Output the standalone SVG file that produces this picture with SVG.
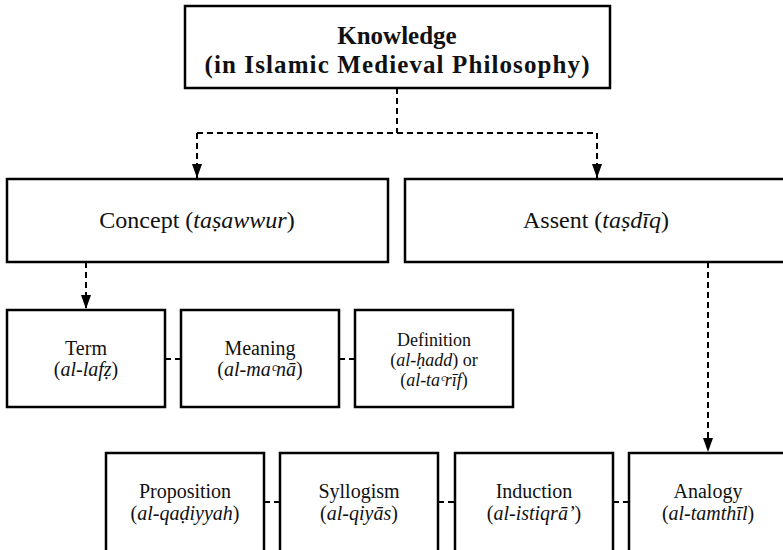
<svg xmlns="http://www.w3.org/2000/svg" width="783" height="550" viewBox="0 0 783 550">
<style>
.box{fill:#fff;stroke:#000;stroke-width:2.5}
.con{fill:none;stroke:#000;stroke-width:2;stroke-dasharray:6 4}
text{font-family:"Liberation Serif","Times New Roman","DejaVu Serif",serif;fill:#111;text-anchor:middle}
.t1{font-size:25px;font-weight:bold}
.t2{font-size:24px}
.t3{font-size:20px}
.t4{font-size:18px}
.i{font-style:italic}
</style>
<defs>
<marker id="arr" viewBox="0 0 14 10" refX="14" refY="5" markerWidth="14" markerHeight="10" markerUnits="userSpaceOnUse" orient="auto">
<path d="M0,0 L14,5 L0,10 Z" fill="#000"/>
</marker>
</defs>
<g id="connectors">
<path class="con" d="M397,88 V133"/>
<path class="con" d="M197,133 H597"/>
<path class="con" d="M197,133 V178" marker-end="url(#arr)"/>
<path class="con" d="M597,133 V178" marker-end="url(#arr)"/>
<path class="con" d="M86,262 V309" marker-end="url(#arr)"/>
<path class="con" d="M708,262 V452" marker-end="url(#arr)"/>
<path class="con" d="M165,359 H181"/>
<path class="con" d="M339,359 H355"/>
<path class="con" d="M264,502 H280"/>
<path class="con" d="M438,502 H455"/>
<path class="con" d="M613,502 H629"/>
</g>
<g id="knowledge">
<rect class="box" x="185" y="6" width="425" height="82"/>
<text class="t1" x="397" y="44">Knowledge</text>
<text class="t1" x="397" y="73" textLength="385" lengthAdjust="spacing">(in Islamic Medieval Philosophy)</text>
</g>
<g id="concept">
<rect class="box" x="7" y="179" width="381" height="83"/>
<text class="t2" x="197" y="228">Concept (<tspan class="i">taṣawwur</tspan>)</text>
</g>
<g id="assent">
<rect class="box" x="405" y="179" width="385" height="83"/>
<text class="t2" x="596" y="228">Assent (<tspan class="i">taṣdīq</tspan>)</text>
</g>
<g id="term">
<rect class="box" x="7" y="310" width="158" height="97"/>
<text class="t3" x="86" y="355">Term</text>
<text class="t3" x="86" y="376">(<tspan class="i">al-lafẓ</tspan>)</text>
</g>
<g id="meaning">
<rect class="box" x="181" y="310" width="158" height="97"/>
<text class="t3" x="260" y="355">Meaning</text>
<text class="t3" x="260" y="376">(<tspan class="i">al-maᶜnā</tspan>)</text>
</g>
<g id="definition">
<rect class="box" x="355" y="310" width="158" height="97"/>
<text class="t4" x="434" y="346">Definition</text>
<text class="t4" x="434" y="366">(<tspan class="i">al-ḥadd</tspan>) or</text>
<text class="t4" x="434" y="386">(<tspan class="i">al-taᶜrīf</tspan>)</text>
</g>
<g id="proposition">
<rect class="box" x="106" y="453" width="158" height="110"/>
<text class="t3" x="185" y="498">Proposition</text>
<text class="t3" x="185" y="520">(<tspan class="i">al-qaḍiyyah</tspan>)</text>
</g>
<g id="syllogism">
<rect class="box" x="280" y="453" width="158" height="110"/>
<text class="t3" x="359" y="498">Syllogism</text>
<text class="t3" x="359" y="520">(<tspan class="i">al-qiyās</tspan>)</text>
</g>
<g id="induction">
<rect class="box" x="455" y="453" width="158" height="110"/>
<text class="t3" x="534" y="498">Induction</text>
<text class="t3" x="534" y="520">(<tspan class="i">al-istiqrā’</tspan>)</text>
</g>
<g id="analogy">
<rect class="box" x="629" y="453" width="158" height="110"/>
<text class="t3" x="708" y="498">Analogy</text>
<text class="t3" x="708" y="520">(<tspan class="i">al-tamthīl</tspan>)</text>
</g>
</svg>
